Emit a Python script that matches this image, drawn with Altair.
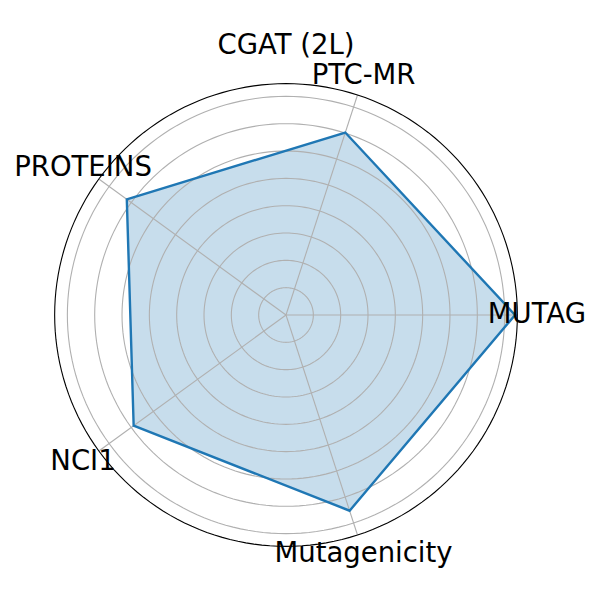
import math
import altair as alt
import pandas as pd

categories = ["MUTAG", "PTC-MR", "PROTEINS", "NCI1", "Mutagenicity"]
values = [0.838, 0.702, 0.720, 0.689, 0.753]
ring_levels = [0.1, 0.2, 0.3, 0.4, 0.5, 0.6, 0.7, 0.8]
r_max = 0.8465
title_text = "CGAT (2L)"

n = len(categories)
angles = [2 * math.pi * i / n for i in range(n)]

poly = pd.DataFrame({
    "cat": categories,
    "value": values,
    "angle": angles,
    "idx": list(range(n)),
})

ring_rows = []
steps = 180
for lvl in ring_levels + [r_max]:
    for k in range(steps):
        ring_rows.append({"level": lvl, "k": k, "a": 2 * math.pi * k / steps,
                          "outer": lvl == r_max})
rings = pd.DataFrame(ring_rows)

X = alt.Scale(domain=[-1.0172, 1.1196], nice=False, zero=False)
Y = alt.Scale(domain=[-1.0135, 1.1233], nice=False, zero=False)

base = alt.Chart(poly).transform_calculate(
    px="datum.value * cos(datum.angle)",
    py="datum.value * sin(datum.angle)",
)

fill = base.mark_line(interpolate="linear-closed", fill="#1f77b4", fillOpacity=0.25,
                      strokeOpacity=0).encode(
    x=alt.X("px:Q", scale=X, axis=None),
    y=alt.Y("py:Q", scale=Y, axis=None),
    order="idx:Q",
)

outline = base.mark_line(interpolate="linear-closed", color="#1f77b4", strokeWidth=2.4).encode(
    x=alt.X("px:Q", scale=X, axis=None),
    y=alt.Y("py:Q", scale=Y, axis=None),
    order="idx:Q",
)

ring_base = alt.Chart(rings).transform_calculate(
    rx="datum.level * cos(datum.a)",
    ry="datum.level * sin(datum.a)",
)
grid_rings = ring_base.transform_filter("!datum.outer").mark_line(
    interpolate="linear-closed", color="#b0b0b0", strokeWidth=1.1).encode(
    x=alt.X("rx:Q", scale=X, axis=None),
    y=alt.Y("ry:Q", scale=Y, axis=None),
    detail="level:N",
    order="k:Q",
)
outer_ring = ring_base.transform_filter("datum.outer").mark_line(
    interpolate="linear-closed", color="black", strokeWidth=1.1).encode(
    x=alt.X("rx:Q", scale=X, axis=None),
    y=alt.Y("ry:Q", scale=Y, axis=None),
    detail="level:N",
    order="k:Q",
)

spokes = alt.Chart(poly).transform_calculate(
    x0="0", y0="0",
    x1=f"{r_max} * cos(datum.angle)",
    y1=f"{r_max} * sin(datum.angle)",
).mark_rule(color="#b0b0b0", strokeWidth=1.1).encode(
    x=alt.X("x0:Q", scale=X, axis=None),
    y=alt.Y("y0:Q", scale=Y, axis=None),
    x2="x1:Q",
    y2="y1:Q",
)

labels = alt.Chart(poly).transform_calculate(
    lx="0.918 * cos(datum.angle)",
    ly="0.918 * sin(datum.angle)",
).mark_text(font="DejaVu Sans", fontSize=27.5, align="center", baseline="middle",
            color="black").encode(
    x=alt.X("lx:Q", scale=X, axis=None),
    y=alt.Y("ly:Q", scale=Y, axis=None),
    text="cat:N",
)

title = alt.Chart(pd.DataFrame({"t": [title_text], "tx": [0.0], "ty": [0.955]})).mark_text(
    font="DejaVu Sans", fontSize=27.5, align="center", baseline="alphabetic", color="black"
).encode(
    x=alt.X("tx:Q", scale=X, axis=None),
    y=alt.Y("ty:Q", scale=Y, axis=None),
    text="t:N",
)

chart = alt.layer(fill, grid_rings, spokes, outline, outer_ring, labels, title).properties(
    width=584, height=584, padding=0, autosize=alt.AutoSizeParams(type="none"),
).configure_view(stroke=None)

chart.save("out.html", embed_options={"renderer": "svg", "actions": False})
